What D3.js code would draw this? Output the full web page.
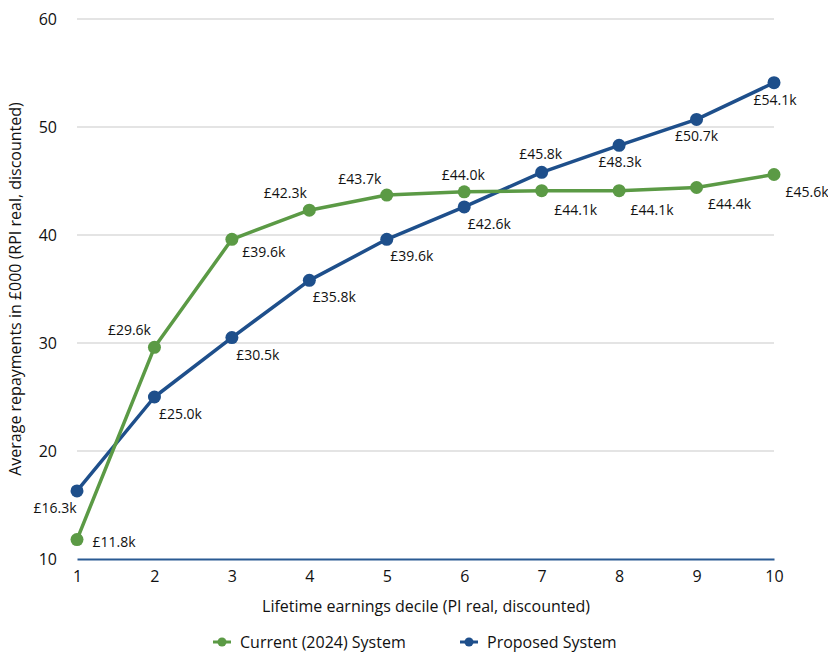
<!DOCTYPE html>
<html>
<head>
<meta charset="utf-8">
<script src="https://cdn.jsdelivr.net/npm/d3@7"></script>
<style>
  body { margin: 0; background: #fff; }
  svg { display: block; font-family: "Open Sans", "Noto Sans", sans-serif; }
</style>
</head>
<body>
<svg id="chart" width="828" height="654"></svg>
<script>
// Lifetime earnings deciles
const deciles = [1, 2, 3, 4, 5, 6, 7, 8, 9, 10];
// Average repayments (£000, RPI real, discounted)
const currentSystem = [11.8, 29.6, 39.6, 42.3, 43.7, 44.0, 44.1, 44.1, 44.4, 45.6];
const proposedSystem = [16.3, 25.0, 30.5, 35.8, 39.6, 42.6, 45.8, 48.3, 50.7, 54.1];
const yTicks = [10, 20, 30, 40, 50, 60];
const seriesNames = ["Current (2024) System", "Proposed System"];

// Label offsets relative to each marker (dx, dy of label centre)
const currentLabelOffset = [[37, 3], [-25, -17], [32, 13], [-24, -17], [-27, -16], [-1, -17], [34, 19], [33, 19], [33, 17], [33, 18]];
const proposedLabelOffset = [[-22, 17], [26, 17], [26, 17], [25, 17], [25, 17], [25, 17], [-1, -18], [1, 17], [0, 17], [1, 17]];

const svg = d3.select("#chart");
const green = "#5b9a45";
const blue = "#1e4f8b";

const x = d3.scaleLinear().domain([1, 10]).range([77, 774]);
const y = d3.scaleLinear().domain([10, 60]).range([559, 19]);

// Horizontal gridlines
svg.append("g")
  .selectAll("line")
  .data(yTicks.filter(t => t > 10))
  .join("line")
  .attr("x1", x(1)).attr("x2", x(10))
  .attr("y1", d => y(d)).attr("y2", d => y(d))
  .attr("stroke", "#c9c9c9").attr("stroke-width", 1);

// Y axis tick labels
const yAxis = d3.axisLeft(y).tickValues(yTicks).tickSize(0).tickPadding(0);
svg.append("g")
  .attr("transform", "translate(57,0)")
  .call(yAxis)
  .call(g => g.select(".domain").remove())
  .call(g => g.selectAll("text")
    .attr("font-family", "Open Sans, sans-serif")
    .attr("font-size", 16).attr("fill", "#111").attr("dy", "0.35em"));

// X axis (baseline at 10)
const xAxis = d3.axisBottom(x).tickValues(deciles).tickSize(0).tickPadding(0).tickFormat(d3.format("d"));
svg.append("g")
  .attr("transform", `translate(0,${y(10)})`)
  .call(xAxis)
  .call(g => g.select(".domain").attr("stroke", "#2a5a93").attr("stroke-width", 2))
  .call(g => g.selectAll("text")
    .attr("font-family", "Open Sans, sans-serif")
    .attr("font-size", 16).attr("fill", "#111").attr("y", 12).attr("dy", "0.71em"));

// Axis titles
svg.append("text")
  .attr("transform", `translate(21,${(y(10) + y(60)) / 2}) rotate(-90)`)
  .attr("text-anchor", "middle")
  .attr("font-size", 16).attr("fill", "#111")
  .text("Average repayments in £000 (RPI real, discounted)");

svg.append("text")
  .attr("x", 426).attr("y", 612)
  .attr("text-anchor", "middle")
  .attr("font-size", 16).attr("fill", "#111")
  .text("Lifetime earnings decile (PI real, discounted)");

const line = d3.line().x((d, i) => x(deciles[i])).y(d => y(d));

function drawSeries(values, color) {
  const g = svg.append("g");
  g.append("path")
    .datum(values)
    .attr("d", line)
    .attr("fill", "none")
    .attr("stroke", color)
    .attr("stroke-width", 3.5)
    .attr("stroke-linejoin", "round");
  g.selectAll("circle")
    .data(values)
    .join("circle")
    .attr("cx", (d, i) => x(deciles[i]))
    .attr("cy", d => y(d))
    .attr("r", 6.5)
    .attr("fill", color);
  return g;
}

function drawLabels(values, offsets) {
  svg.append("g")
    .selectAll("text")
    .data(values)
    .join("text")
    .attr("x", (d, i) => x(deciles[i]) + offsets[i][0])
    .attr("y", (d, i) => y(d) + offsets[i][1])
    .attr("dy", "0.35em")
    .attr("text-anchor", "middle")
    .attr("font-size", 14)
    .attr("fill", "#111")
    .text(d => `£${d.toFixed(1)}k`);
}

drawSeries(proposedSystem, blue);
drawSeries(currentSystem, green);
drawLabels(currentSystem, currentLabelOffset);
drawLabels(proposedSystem, proposedLabelOffset);

// Legend
const legendY = 642;
const legend = svg.append("g");
const legendItems = [
  { name: seriesNames[0], color: green, x: 222 },
  { name: seriesNames[1], color: blue, x: 469 }
];
legendItems.forEach(item => {
  legend.append("line")
    .attr("x1", item.x - 9).attr("x2", item.x + 9)
    .attr("y1", legendY).attr("y2", legendY)
    .attr("stroke", item.color).attr("stroke-width", 3);
  legend.append("circle")
    .attr("cx", item.x).attr("cy", legendY).attr("r", 4.5)
    .attr("fill", item.color);
  legend.append("text")
    .attr("x", item.x + 18).attr("y", legendY).attr("dy", "0.35em")
    .attr("font-size", 16).attr("fill", "#111")
    .text(item.name);
});
</script>
</body>
</html>
